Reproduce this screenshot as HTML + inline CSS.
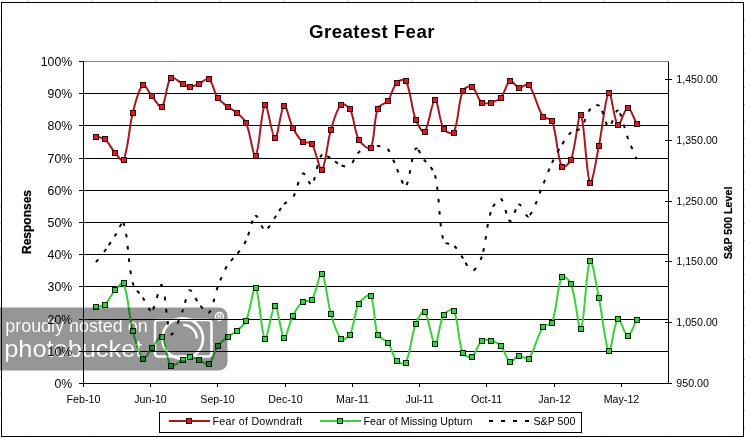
<!DOCTYPE html>
<html><head><meta charset="utf-8"><title>Greatest Fear</title>
<style>html,body{margin:0;padding:0;background:#fff;}body{width:745px;height:438px;overflow:hidden;}svg{display:block;will-change:transform;}</style>
</head><body>
<svg width="745" height="438" viewBox="0 0 745 438">
<rect width="745" height="438" fill="#fff"/>
<g fill="#c4c4c4" shape-rendering="crispEdges"><rect x="28" y="0" width="1" height="2"/><rect x="28" y="437" width="1" height="1"/><rect x="92" y="0" width="1" height="2"/><rect x="92" y="437" width="1" height="1"/><rect x="156" y="0" width="1" height="2"/><rect x="156" y="437" width="1" height="1"/><rect x="220" y="0" width="1" height="2"/><rect x="220" y="437" width="1" height="1"/><rect x="284" y="0" width="1" height="2"/><rect x="284" y="437" width="1" height="1"/><rect x="348" y="0" width="1" height="2"/><rect x="348" y="437" width="1" height="1"/><rect x="412" y="0" width="1" height="2"/><rect x="412" y="437" width="1" height="1"/><rect x="476" y="0" width="1" height="2"/><rect x="476" y="437" width="1" height="1"/><rect x="540" y="0" width="1" height="2"/><rect x="540" y="437" width="1" height="1"/><rect x="604" y="0" width="1" height="2"/><rect x="604" y="437" width="1" height="1"/><rect x="668" y="0" width="1" height="2"/><rect x="668" y="437" width="1" height="1"/><rect x="732" y="0" width="1" height="2"/><rect x="732" y="437" width="1" height="1"/><rect x="744" y="19" width="1" height="1"/><rect x="0" y="19" width="1" height="1"/><rect x="744" y="36" width="1" height="1"/><rect x="0" y="36" width="1" height="1"/><rect x="744" y="53" width="1" height="1"/><rect x="0" y="53" width="1" height="1"/><rect x="744" y="70" width="1" height="1"/><rect x="0" y="70" width="1" height="1"/><rect x="744" y="87" width="1" height="1"/><rect x="0" y="87" width="1" height="1"/><rect x="744" y="104" width="1" height="1"/><rect x="0" y="104" width="1" height="1"/><rect x="744" y="121" width="1" height="1"/><rect x="0" y="121" width="1" height="1"/><rect x="744" y="138" width="1" height="1"/><rect x="0" y="138" width="1" height="1"/><rect x="744" y="155" width="1" height="1"/><rect x="0" y="155" width="1" height="1"/><rect x="744" y="172" width="1" height="1"/><rect x="0" y="172" width="1" height="1"/><rect x="744" y="189" width="1" height="1"/><rect x="0" y="189" width="1" height="1"/><rect x="744" y="206" width="1" height="1"/><rect x="0" y="206" width="1" height="1"/><rect x="744" y="223" width="1" height="1"/><rect x="0" y="223" width="1" height="1"/><rect x="744" y="240" width="1" height="1"/><rect x="0" y="240" width="1" height="1"/><rect x="744" y="257" width="1" height="1"/><rect x="0" y="257" width="1" height="1"/><rect x="744" y="274" width="1" height="1"/><rect x="0" y="274" width="1" height="1"/><rect x="744" y="291" width="1" height="1"/><rect x="0" y="291" width="1" height="1"/><rect x="744" y="308" width="1" height="1"/><rect x="0" y="308" width="1" height="1"/><rect x="744" y="325" width="1" height="1"/><rect x="0" y="325" width="1" height="1"/><rect x="744" y="342" width="1" height="1"/><rect x="0" y="342" width="1" height="1"/><rect x="744" y="359" width="1" height="1"/><rect x="0" y="359" width="1" height="1"/><rect x="744" y="376" width="1" height="1"/><rect x="0" y="376" width="1" height="1"/><rect x="744" y="393" width="1" height="1"/><rect x="0" y="393" width="1" height="1"/><rect x="744" y="410" width="1" height="1"/><rect x="0" y="410" width="1" height="1"/><rect x="744" y="427" width="1" height="1"/><rect x="0" y="427" width="1" height="1"/></g>
<rect x="1.5" y="2.5" width="742" height="434" fill="none" stroke="#000" stroke-width="1" shape-rendering="crispEdges"/>
<text x="372" y="38.2" text-anchor="middle" font-family='"Liberation Sans", sans-serif' font-weight="bold" font-size="18.67px" letter-spacing="0.42" fill="#000">Greatest Fear</text>
<g fill="#000" shape-rendering="crispEdges"><rect x="84" y="93" width="584" height="1"/><rect x="84" y="125" width="584" height="1"/><rect x="84" y="158" width="584" height="1"/><rect x="84" y="190" width="584" height="1"/><rect x="84" y="222" width="584" height="1"/><rect x="84" y="254" width="584" height="1"/><rect x="84" y="286" width="584" height="1"/><rect x="84" y="319" width="584" height="1"/><rect x="84" y="351" width="584" height="1"/></g>
<rect x="83" y="61" width="586" height="1" fill="#868686" shape-rendering="crispEdges"/>
<g fill="#000" shape-rendering="crispEdges"><rect x="83" y="61" width="1" height="326"/><rect x="83" y="383" width="586" height="1"/><rect x="668" y="62" width="1" height="322"/><rect x="79" y="61" width="4" height="1"/><rect x="79" y="93" width="4" height="1"/><rect x="79" y="125" width="4" height="1"/><rect x="79" y="158" width="4" height="1"/><rect x="79" y="190" width="4" height="1"/><rect x="79" y="222" width="4" height="1"/><rect x="79" y="254" width="4" height="1"/><rect x="79" y="286" width="4" height="1"/><rect x="79" y="319" width="4" height="1"/><rect x="79" y="351" width="4" height="1"/><rect x="79" y="383" width="4" height="1"/><rect x="83" y="383" width="1" height="4"/><rect x="150" y="383" width="1" height="4"/><rect x="217" y="383" width="1" height="4"/><rect x="285" y="383" width="1" height="4"/><rect x="352" y="383" width="1" height="4"/><rect x="419" y="383" width="1" height="4"/><rect x="486" y="383" width="1" height="4"/><rect x="554" y="383" width="1" height="4"/><rect x="621" y="383" width="1" height="4"/><rect x="665" y="79" width="7" height="1"/><rect x="665" y="140" width="7" height="1"/><rect x="665" y="201" width="7" height="1"/><rect x="665" y="261" width="7" height="1"/><rect x="665" y="322" width="7" height="1"/><rect x="665" y="383" width="7" height="1"/></g>
<g font-family='"Liberation Sans", sans-serif' font-size="13px" fill="#000"><text x="40.75" y="65.7" textLength="31.45" lengthAdjust="spacingAndGlyphs">100%</text><text x="47.59" y="97.7" textLength="24.61" lengthAdjust="spacingAndGlyphs">90%</text><text x="47.59" y="129.7" textLength="24.61" lengthAdjust="spacingAndGlyphs">80%</text><text x="47.59" y="162.7" textLength="24.61" lengthAdjust="spacingAndGlyphs">70%</text><text x="47.59" y="194.7" textLength="24.61" lengthAdjust="spacingAndGlyphs">60%</text><text x="47.59" y="226.7" textLength="24.61" lengthAdjust="spacingAndGlyphs">50%</text><text x="47.59" y="258.7" textLength="24.61" lengthAdjust="spacingAndGlyphs">40%</text><text x="47.59" y="290.7" textLength="24.61" lengthAdjust="spacingAndGlyphs">30%</text><text x="47.59" y="323.7" textLength="24.61" lengthAdjust="spacingAndGlyphs">20%</text><text x="47.59" y="355.7" textLength="24.61" lengthAdjust="spacingAndGlyphs">10%</text><text x="54.43" y="387.7" textLength="17.77" lengthAdjust="spacingAndGlyphs">0%</text></g>
<g font-family='"Liberation Sans", sans-serif' font-size="10.67px" fill="#000"><text x="83.5" y="402.7" text-anchor="middle">Feb-10</text><text x="150.5" y="402.7" text-anchor="middle">Jun-10</text><text x="217.5" y="402.7" text-anchor="middle">Sep-10</text><text x="285.5" y="402.7" text-anchor="middle">Dec-10</text><text x="352.5" y="402.7" text-anchor="middle">Mar-11</text><text x="419.5" y="402.7" text-anchor="middle">Jul-11</text><text x="486.5" y="402.7" text-anchor="middle">Oct-11</text><text x="554.5" y="402.7" text-anchor="middle">Jan-12</text><text x="621.5" y="402.7" text-anchor="middle">May-12</text><text x="676.3" y="83.3">1,450.00</text><text x="676.3" y="144.3">1,350.00</text><text x="676.3" y="205.3">1,250.00</text><text x="676.3" y="265.3">1,150.00</text><text x="676.3" y="326.3">1,050.00</text><text x="676.3" y="387.3">950.00</text></g>
<text transform="translate(31.3 222) rotate(-90)" text-anchor="middle" font-family='"Liberation Sans", sans-serif' font-weight="bold" font-size="12px" fill="#000" stroke="#000" stroke-width="0.25">Responses</text>
<text transform="translate(732.4 223) rotate(-90)" text-anchor="middle" font-family='"Liberation Sans", sans-serif' font-weight="bold" font-size="10.67px" fill="#000" stroke="#000" stroke-width="0.2">S&amp;P 500 Level</text>
<path d="M96.00 136.60 C99.00 137.47 102.74 137.28 105.00 139.20 C109.01 142.61 111.16 148.48 114.80 152.60 C117.32 155.45 122.35 162.66 123.50 160.10 C128.35 149.36 128.78 128.24 132.80 112.70 C135.25 103.24 138.62 88.86 142.90 85.10 C144.95 83.30 148.71 92.47 151.80 96.00 C155.01 99.67 159.72 108.66 161.80 106.70 C166.08 102.66 166.04 83.27 170.90 78.00 C173.04 75.67 178.80 82.00 182.80 83.90 C185.04 84.96 187.28 86.90 189.60 86.90 C192.65 86.90 195.90 85.15 198.90 83.90 C202.30 82.48 206.63 77.29 208.80 78.90 C212.89 81.93 213.85 92.16 217.70 97.80 C220.18 101.43 224.28 103.94 227.80 106.70 C230.61 108.90 234.03 110.35 236.70 112.70 C240.10 115.69 244.20 118.63 246.00 122.70 C250.50 132.93 253.07 157.97 255.60 155.60 C259.40 152.04 261.12 108.46 265.00 104.90 C267.59 102.53 271.76 137.65 275.00 137.80 C278.13 137.95 280.63 107.77 284.10 105.80 C286.56 104.40 289.20 120.78 292.80 127.70 C295.44 132.78 298.67 138.31 302.80 141.80 C304.97 143.64 310.14 141.41 311.70 143.70 C316.47 150.68 319.21 171.48 321.80 169.60 C325.61 166.84 327.05 142.81 330.90 129.80 C333.45 121.18 336.35 109.84 341.00 104.70 C342.68 102.84 348.51 106.08 349.90 108.80 C354.44 117.71 354.04 130.62 358.80 139.60 C360.94 143.62 368.92 150.53 370.60 147.80 C375.22 140.26 373.35 120.61 377.70 108.80 C379.15 104.88 385.48 104.06 388.00 100.60 C391.78 95.40 392.58 87.29 396.60 82.80 C398.52 80.66 404.59 78.36 405.80 80.70 C410.96 90.66 411.14 107.30 415.70 119.70 C417.38 124.26 422.52 133.63 424.50 131.60 C428.96 127.03 431.64 100.37 435.00 99.90 C438.04 99.47 439.09 120.86 443.70 128.90 C445.32 131.72 452.43 135.03 453.70 132.50 C458.80 122.33 457.86 103.15 462.80 90.80 C463.96 87.89 469.78 85.32 472.00 86.70 C476.11 89.26 477.56 99.04 481.80 102.60 C483.86 104.34 488.05 103.35 490.90 102.60 C494.35 101.69 498.35 100.22 500.70 97.60 C504.75 93.09 506.24 83.31 510.10 81.20 C512.34 79.98 515.78 86.99 519.00 87.60 C521.95 88.16 526.82 82.55 528.60 84.70 C534.82 92.21 536.92 107.23 543.00 116.60 C544.72 119.26 550.90 117.89 552.00 120.80 C557.20 134.55 556.80 156.14 561.90 166.60 C563.14 169.14 569.75 163.22 571.00 159.80 C576.05 145.95 578.25 111.73 580.80 114.80 C584.59 119.37 586.12 176.08 590.00 182.70 C592.15 186.38 596.29 158.11 598.90 145.70 C602.59 128.14 604.98 97.13 608.90 92.80 C611.31 90.13 613.95 121.58 617.90 124.70 C620.25 126.55 624.56 107.89 627.80 107.70 C630.79 107.52 633.67 118.30 636.60 123.60" fill="none" stroke="#a61822" stroke-width="2" stroke-linejoin="round"/>
<path d="M96.00 306.90 C99.00 306.10 102.80 306.43 105.00 304.50 C109.06 300.93 111.06 294.66 114.80 290.40 C117.23 287.63 122.38 280.87 123.50 283.40 C128.38 294.40 128.78 315.39 132.80 331.00 C135.25 340.52 138.60 354.95 142.90 358.80 C144.93 360.62 148.78 351.56 151.80 348.00 C155.08 344.13 159.68 334.54 161.80 336.50 C166.04 340.41 166.02 360.21 170.90 365.60 C173.02 367.95 178.81 361.62 182.80 359.70 C185.04 358.62 187.28 356.60 189.60 356.60 C192.65 356.60 195.88 358.47 198.90 359.70 C202.28 361.07 206.61 365.99 208.80 364.40 C212.88 361.43 213.90 351.51 217.70 346.00 C220.23 342.34 224.26 339.71 227.80 336.90 C230.59 334.68 234.02 333.24 236.70 330.90 C240.09 327.94 244.22 325.05 246.00 321.00 C250.52 310.75 253.06 285.66 255.60 288.00 C259.39 291.49 261.12 334.96 265.00 338.50 C267.59 340.86 271.76 305.85 275.00 305.70 C278.13 305.55 280.63 335.63 284.10 337.60 C286.56 339.00 289.20 322.69 292.80 315.80 C295.44 310.75 298.68 305.29 302.80 301.80 C304.98 299.95 310.14 302.10 311.70 299.80 C316.47 292.80 319.21 272.00 321.80 273.90 C325.61 276.70 327.03 300.83 330.90 313.90 C333.43 322.46 336.36 333.72 341.00 338.80 C342.69 340.65 348.51 337.42 349.90 334.70 C354.45 325.76 354.03 312.80 358.80 303.80 C360.93 299.80 368.93 292.97 370.60 295.70 C375.23 303.27 373.33 322.92 377.70 334.70 C379.13 338.56 385.53 339.19 388.00 342.60 C391.83 347.89 392.55 356.27 396.60 360.80 C398.48 362.90 404.59 364.84 405.80 362.50 C410.96 352.48 411.16 336.05 415.70 323.70 C417.39 319.11 422.52 309.66 424.50 311.70 C428.96 316.30 431.62 343.05 435.00 343.60 C438.02 344.09 439.12 322.90 443.70 314.80 C445.36 311.87 452.42 307.95 453.70 310.50 C458.79 320.65 457.83 340.41 462.80 352.90 C463.93 355.75 469.80 357.91 472.00 356.50 C476.14 353.84 477.57 344.24 481.80 340.70 C483.87 338.97 488.05 339.95 490.90 340.70 C494.35 341.61 498.32 343.09 500.70 345.70 C504.72 350.12 506.25 359.74 510.10 361.80 C512.35 363.01 515.79 356.07 519.00 355.50 C521.96 354.97 526.81 360.64 528.60 358.50 C534.81 351.08 536.93 336.09 543.00 326.80 C544.73 324.16 550.90 325.60 552.00 322.70 C557.20 308.93 556.80 287.29 561.90 276.80 C563.13 274.26 569.76 280.18 571.00 283.60 C576.06 297.48 578.25 331.76 580.80 328.70 C584.58 324.16 586.12 267.42 590.00 260.80 C592.15 257.12 596.30 285.39 598.90 297.80 C602.60 315.42 604.98 346.55 608.90 350.90 C611.31 353.58 613.94 322.07 617.90 318.90 C620.24 317.03 624.57 335.63 627.80 335.80 C630.80 335.96 633.67 325.20 636.60 319.90" fill="none" stroke="#3ad03a" stroke-width="2" stroke-linejoin="round"/>
<g fill="none" stroke="#000" stroke-width="2"><path d="M96.00 262.20 C99.00 258.37 102.16 254.65 105.00 250.70" stroke-dasharray="0.00 0.03 3.60 9.48 1.49 24.60"/><path d="M105.00 250.70 C108.43 245.92 111.52 240.89 114.80 236.00" stroke-dasharray="0.00 0.00 2.11 4.68 3.60 6.81 0.47 27.67"/><path d="M114.80 236.00 C117.69 231.69 122.28 219.90 123.50 223.10" stroke-dasharray="0.00 0.00 3.13 6.98 3.60 2.44 0.56 26.71"/><path d="M123.50 223.10 C128.28 235.60 127.80 263.86 132.80 283.10" stroke-dasharray="0.00 0.00 3.04 8.19 3.60 8.55 3.60 8.69 3.60 8.53 3.60 8.53 0.89 70.82"/><path d="M132.80 283.10 C134.26 288.73 139.55 292.82 142.90 297.70" stroke-dasharray="0.00 0.00 2.71 5.91 3.60 5.36 0.30 27.89"/><path d="M142.90 297.70 C145.89 302.05 149.51 312.35 151.80 310.80" stroke-dasharray="0.00 0.00 3.30 8.33 3.60 26.47"/><path d="M151.80 310.80 C155.81 308.08 159.53 282.13 161.80 284.90" stroke-dasharray="0.00 1.91 3.60 8.53 3.60 8.79 2.17 38.59"/><path d="M161.80 284.90 C165.89 289.90 166.33 328.57 170.90 334.10" stroke-dasharray="0.00 0.00 1.43 10.97 3.60 8.53 3.60 8.45 3.60 9.47 0.68 60.33"/><path d="M170.90 334.10 C173.33 337.04 179.33 318.44 182.80 310.30" stroke-dasharray="0.00 0.00 2.92 10.39 3.60 8.16 2.56 37.63"/><path d="M182.80 310.30 C185.57 303.81 186.57 291.44 189.60 290.20" stroke-dasharray="0.00 0.00 1.04 6.90 3.60 8.98 0.96 31.48"/><path d="M189.60 290.20 C191.94 289.24 195.38 299.56 198.90 303.70" stroke-dasharray="0.00 0.00 2.64 7.48 3.60 26.82"/><path d="M198.90 303.70 C201.78 307.09 206.73 314.64 208.80 312.80" stroke-dasharray="0.00 2.81 3.60 7.13 0.59 24.13"/><path d="M208.80 312.80 C213.00 309.07 214.37 295.46 217.70 287.00" stroke-dasharray="0.00 0.00 3.01 8.79 3.60 8.62 3.48 37.50"/><path d="M217.70 287.00 C220.71 279.36 223.68 271.51 227.80 264.50" stroke-dasharray="0.00 0.00 0.12 6.90 3.60 8.42 3.60 34.69"/><path d="M227.80 264.50 C230.01 260.74 234.02 258.19 236.70 254.70" stroke-dasharray="0.00 4.68 3.60 23.27"/><path d="M236.70 254.70 C240.09 250.29 243.57 245.78 246.00 240.80" stroke-dasharray="0.00 1.47 3.60 8.13 3.55 26.75"/><path d="M246.00 240.80 C249.87 232.85 251.73 218.10 255.60 215.90" stroke-dasharray="0.00 5.87 3.60 8.15 3.60 5.01 0.71 36.94"/><path d="M255.60 215.90 C258.06 214.50 261.68 229.74 265.00 230.00" stroke-dasharray="0.00 0.00 2.89 8.51 3.60 27.62"/><path d="M265.00 230.00 C268.15 230.24 271.82 221.71 275.00 217.40" stroke-dasharray="0.00 3.30 3.60 7.90 1.68 26.48"/><path d="M275.00 217.40 C278.19 213.08 280.54 208.02 284.10 204.10" stroke-dasharray="0.00 0.00 1.92 5.67 3.60 4.84 0.11 26.13"/><path d="M284.10 204.10 C286.47 201.49 290.99 200.76 292.80 197.80" stroke-dasharray="0.00 0.00 3.49 20.85"/><path d="M292.80 197.80 C297.22 190.56 298.69 176.44 302.80 173.50" stroke-dasharray="0.00 1.51 3.60 8.15 3.60 8.67 0.96 36.49"/><path d="M302.80 173.50 C304.99 171.94 309.74 186.23 311.70 184.30" stroke-dasharray="0.00 0.00 2.64 7.09 3.60 24.90"/><path d="M311.70 184.30 C316.07 180.00 316.93 161.37 321.80 154.80" stroke-dasharray="0.00 4.49 3.60 8.27 3.60 8.36 3.09 41.42"/><path d="M321.80 154.80 C323.33 152.74 328.06 156.84 330.90 158.40" stroke-dasharray="0.00 0.00 0.51 5.26 3.60 20.39"/><path d="M330.90 158.40 C334.46 160.34 337.34 163.89 341.00 165.30" stroke-dasharray="0.00 5.11 3.60 22.27"/><path d="M341.00 165.30 C343.67 166.33 347.79 167.25 349.90 165.70" stroke-dasharray="0.00 0.59 3.60 19.22"/><path d="M349.90 165.70 C353.73 162.88 354.90 155.48 358.80 152.20" stroke-dasharray="0.00 3.77 3.60 7.14 1.80 26.31"/><path d="M358.80 152.20 C361.80 149.68 366.66 149.57 370.60 148.30" stroke-dasharray="0.00 0.00 1.80 8.40 2.33 22.53"/><path d="M370.60 148.30 C372.96 147.54 375.34 145.94 377.70 146.10" stroke-dasharray="0.00 0.00 1.27 5.34 0.89 17.50"/><path d="M377.70 146.10 C381.14 146.34 385.82 146.96 388.00 149.50" stroke-dasharray="0.00 0.00 2.71 7.60 0.80 21.11"/><path d="M388.00 149.50 C392.12 154.30 393.60 161.97 396.60 168.10" stroke-dasharray="0.00 0.00 2.80 8.54 3.60 30.58"/><path d="M396.60 168.10 C399.53 174.10 403.62 188.11 405.80 185.90" stroke-dasharray="0.00 1.22 3.60 8.16 3.60 30.85"/><path d="M405.80 185.90 C409.99 181.65 411.17 154.92 415.70 148.70" stroke-dasharray="0.00 1.24 3.60 7.96 3.60 8.21 3.60 8.86 1.67 48.75"/><path d="M415.70 148.70 C417.40 146.36 421.64 156.31 424.50 160.20" stroke-dasharray="0.00 0.00 1.93 1.46 3.60 7.18 1.16 25.33"/><path d="M424.50 160.20 C428.08 165.08 433.64 169.23 435.00 175.00" stroke-dasharray="0.00 0.00 2.44 6.83 3.60 28.32"/><path d="M435.00 175.00 C440.04 196.30 438.33 221.20 443.70 241.40" stroke-dasharray="0.00 0.18 3.60 8.15 3.60 8.57 3.60 8.62 3.60 8.27 3.60 8.70 3.60 77.05"/><path d="M443.70 241.40 C444.56 244.64 451.10 243.05 453.70 245.30" stroke-dasharray="0.00 2.62 3.60 21.18"/><path d="M453.70 245.30 C457.47 248.55 459.81 253.67 462.80 257.90" stroke-dasharray="0.00 0.96 3.60 8.22 2.82 25.60"/><path d="M462.80 257.90 C465.91 262.30 468.97 271.41 472.00 271.20" stroke-dasharray="0.00 0.00 0.78 4.75 3.60 26.57"/><path d="M472.00 271.20 C475.30 270.97 480.05 262.10 481.80 256.60" stroke-dasharray="0.00 1.80 3.60 9.06 3.60 28.11"/><path d="M481.80 256.60 C486.35 242.27 486.25 225.94 490.90 211.70" stroke-dasharray="0.00 5.14 3.60 8.64 3.60 8.59 3.60 8.75 3.60 55.87"/><path d="M490.90 211.70 C492.55 206.64 498.14 197.43 500.70 198.70" stroke-dasharray="0.00 5.34 3.60 7.87 0.25 27.06"/><path d="M500.70 198.70 C504.54 200.60 506.67 220.11 510.10 221.20" stroke-dasharray="0.00 0.00 3.35 9.00 3.60 6.77 2.08 34.80"/><path d="M510.10 221.20 C512.77 222.04 515.58 205.41 519.00 204.50" stroke-dasharray="0.00 0.00 1.52 8.28 3.60 5.25 0.85 29.50"/><path d="M519.00 204.50 C521.75 203.77 526.15 218.30 528.60 216.30" stroke-dasharray="0.00 0.00 2.75 9.48 3.60 26.07"/><path d="M528.60 216.30 C534.15 211.76 538.38 195.44 543.00 184.90" stroke-dasharray="0.00 1.90 3.60 8.40 3.60 8.15 3.60 44.77"/><path d="M543.00 184.90 C546.18 177.64 548.62 170.05 552.00 162.90" stroke-dasharray="0.00 1.72 3.60 8.56 3.60 33.77"/><path d="M552.00 162.90 C554.92 156.72 558.29 150.70 561.90 144.90" stroke-dasharray="0.00 0.00 3.60 8.41 3.60 30.55"/><path d="M561.90 144.90 C564.62 140.53 567.28 135.71 571.00 132.40" stroke-dasharray="0.00 0.82 3.60 7.84 3.27 25.52"/><path d="M571.00 132.40 C573.58 130.11 578.65 130.70 580.80 128.10" stroke-dasharray="0.00 0.00 0.33 5.31 3.60 20.85"/><path d="M580.80 128.10 C584.98 123.06 585.89 114.61 590.00 109.50" stroke-dasharray="0.00 6.53 3.60 8.28 2.44 30.85"/><path d="M590.00 109.50 C591.92 107.11 597.05 103.92 598.90 105.60" stroke-dasharray="0.00 0.00 1.16 6.35 2.89 20.40"/><path d="M598.90 105.60 C603.35 109.65 605.36 125.77 608.90 126.70" stroke-dasharray="0.00 0.00 0.71 5.49 3.60 7.44 3.60 33.70"/><path d="M608.90 126.70 C611.70 127.44 615.46 109.14 617.90 110.60" stroke-dasharray="0.00 4.18 3.60 8.52 2.91 29.22"/><path d="M617.90 110.60 C621.76 112.91 624.30 128.94 627.80 138.00" stroke-dasharray="0.00 0.00 0.69 2.72 3.60 8.40 3.60 7.91 2.47 39.39"/><path d="M627.80 138.00 C630.53 145.08 633.67 152.00 636.60 159.00" stroke-dasharray="0.00 0.00 1.13 7.22 3.60 8.56 2.26 32.77"/></g>
<g fill="#d21e2a" stroke="#3a0000" stroke-width="1"><rect x="93.5" y="134.5" width="5" height="5"/><rect x="102.5" y="136.5" width="5" height="5"/><rect x="112.5" y="150.5" width="5" height="5"/><rect x="121.5" y="157.5" width="5" height="5"/><rect x="130.5" y="110.5" width="5" height="5"/><rect x="140.5" y="82.5" width="5" height="5"/><rect x="149.5" y="93.5" width="5" height="5"/><rect x="159.5" y="104.5" width="5" height="5"/><rect x="168.5" y="75.5" width="5" height="5"/><rect x="180.5" y="81.5" width="5" height="5"/><rect x="187.5" y="84.5" width="5" height="5"/><rect x="196.5" y="81.5" width="5" height="5"/><rect x="206.5" y="76.5" width="5" height="5"/><rect x="215.5" y="95.5" width="5" height="5"/><rect x="225.5" y="104.5" width="5" height="5"/><rect x="234.5" y="110.5" width="5" height="5"/><rect x="243.5" y="120.5" width="5" height="5"/><rect x="253.5" y="153.5" width="5" height="5"/><rect x="262.5" y="102.5" width="5" height="5"/><rect x="272.5" y="135.5" width="5" height="5"/><rect x="281.5" y="103.5" width="5" height="5"/><rect x="290.5" y="125.5" width="5" height="5"/><rect x="300.5" y="139.5" width="5" height="5"/><rect x="309.5" y="141.5" width="5" height="5"/><rect x="319.5" y="167.5" width="5" height="5"/><rect x="328.5" y="127.5" width="5" height="5"/><rect x="338.5" y="102.5" width="5" height="5"/><rect x="347.5" y="106.5" width="5" height="5"/><rect x="356.5" y="137.5" width="5" height="5"/><rect x="368.5" y="145.5" width="5" height="5"/><rect x="375.5" y="106.5" width="5" height="5"/><rect x="385.5" y="98.5" width="5" height="5"/><rect x="394.5" y="80.5" width="5" height="5"/><rect x="403.5" y="78.5" width="5" height="5"/><rect x="413.5" y="117.5" width="5" height="5"/><rect x="422.5" y="129.5" width="5" height="5"/><rect x="432.5" y="97.5" width="5" height="5"/><rect x="441.5" y="126.5" width="5" height="5"/><rect x="451.5" y="130.5" width="5" height="5"/><rect x="460.5" y="88.5" width="5" height="5"/><rect x="469.5" y="84.5" width="5" height="5"/><rect x="479.5" y="100.5" width="5" height="5"/><rect x="488.5" y="100.5" width="5" height="5"/><rect x="498.5" y="95.5" width="5" height="5"/><rect x="507.5" y="78.5" width="5" height="5"/><rect x="516.5" y="85.5" width="5" height="5"/><rect x="526.5" y="82.5" width="5" height="5"/><rect x="540.5" y="114.5" width="5" height="5"/><rect x="549.5" y="118.5" width="5" height="5"/><rect x="559.5" y="164.5" width="5" height="5"/><rect x="568.5" y="157.5" width="5" height="5"/><rect x="578.5" y="112.5" width="5" height="5"/><rect x="587.5" y="180.5" width="5" height="5"/><rect x="596.5" y="143.5" width="5" height="5"/><rect x="606.5" y="90.5" width="5" height="5"/><rect x="615.5" y="122.5" width="5" height="5"/><rect x="625.5" y="105.5" width="5" height="5"/><rect x="634.5" y="121.5" width="5" height="5"/></g>
<g fill="#3ccc4c" stroke="#002400" stroke-width="1"><rect x="93.5" y="304.5" width="5" height="5"/><rect x="102.5" y="302.5" width="5" height="5"/><rect x="112.5" y="287.5" width="5" height="5"/><rect x="121.5" y="280.5" width="5" height="5"/><rect x="130.5" y="328.5" width="5" height="5"/><rect x="140.5" y="356.5" width="5" height="5"/><rect x="149.5" y="345.5" width="5" height="5"/><rect x="159.5" y="334.5" width="5" height="5"/><rect x="168.5" y="363.5" width="5" height="5"/><rect x="180.5" y="357.5" width="5" height="5"/><rect x="187.5" y="354.5" width="5" height="5"/><rect x="196.5" y="357.5" width="5" height="5"/><rect x="206.5" y="361.5" width="5" height="5"/><rect x="215.5" y="343.5" width="5" height="5"/><rect x="225.5" y="334.5" width="5" height="5"/><rect x="234.5" y="328.5" width="5" height="5"/><rect x="243.5" y="318.5" width="5" height="5"/><rect x="253.5" y="285.5" width="5" height="5"/><rect x="262.5" y="336.5" width="5" height="5"/><rect x="272.5" y="303.5" width="5" height="5"/><rect x="281.5" y="335.5" width="5" height="5"/><rect x="290.5" y="313.5" width="5" height="5"/><rect x="300.5" y="299.5" width="5" height="5"/><rect x="309.5" y="297.5" width="5" height="5"/><rect x="319.5" y="271.5" width="5" height="5"/><rect x="328.5" y="311.5" width="5" height="5"/><rect x="338.5" y="336.5" width="5" height="5"/><rect x="347.5" y="332.5" width="5" height="5"/><rect x="356.5" y="301.5" width="5" height="5"/><rect x="368.5" y="293.5" width="5" height="5"/><rect x="375.5" y="332.5" width="5" height="5"/><rect x="385.5" y="340.5" width="5" height="5"/><rect x="394.5" y="358.5" width="5" height="5"/><rect x="403.5" y="360.5" width="5" height="5"/><rect x="413.5" y="321.5" width="5" height="5"/><rect x="422.5" y="309.5" width="5" height="5"/><rect x="432.5" y="341.5" width="5" height="5"/><rect x="441.5" y="312.5" width="5" height="5"/><rect x="451.5" y="308.5" width="5" height="5"/><rect x="460.5" y="350.5" width="5" height="5"/><rect x="469.5" y="354.5" width="5" height="5"/><rect x="479.5" y="338.5" width="5" height="5"/><rect x="488.5" y="338.5" width="5" height="5"/><rect x="498.5" y="343.5" width="5" height="5"/><rect x="507.5" y="359.5" width="5" height="5"/><rect x="516.5" y="353.5" width="5" height="5"/><rect x="526.5" y="356.5" width="5" height="5"/><rect x="540.5" y="324.5" width="5" height="5"/><rect x="549.5" y="320.5" width="5" height="5"/><rect x="559.5" y="274.5" width="5" height="5"/><rect x="568.5" y="281.5" width="5" height="5"/><rect x="578.5" y="326.5" width="5" height="5"/><rect x="587.5" y="258.5" width="5" height="5"/><rect x="596.5" y="295.5" width="5" height="5"/><rect x="606.5" y="348.5" width="5" height="5"/><rect x="615.5" y="316.5" width="5" height="5"/><rect x="625.5" y="333.5" width="5" height="5"/><rect x="634.5" y="317.5" width="5" height="5"/></g>
<rect x="159.5" y="412.5" width="422" height="20" fill="#fff" stroke="#000" stroke-width="1" shape-rendering="crispEdges"/>
<rect x="169" y="420" width="41" height="2" fill="#a61822" shape-rendering="crispEdges"/>
<rect x="186.5" y="418.5" width="5" height="5" fill="#d21e2a" stroke="#3a0000" shape-rendering="crispEdges"/>
<rect x="320" y="420" width="41" height="2" fill="#3ad03a" shape-rendering="crispEdges"/>
<rect x="337.5" y="418.5" width="5" height="5" fill="#3ccc4c" stroke="#002400" shape-rendering="crispEdges"/>
<g fill="#000" shape-rendering="crispEdges"><rect x="489" y="420" width="4" height="2"/><rect x="501" y="420" width="4" height="2"/><rect x="513" y="420" width="4" height="2"/><rect x="525" y="420" width="4" height="2"/></g>
<g font-family='"Liberation Sans", sans-serif' font-size="10.67px" fill="#000"><text x="212.5" y="424.9" letter-spacing="0.27">Fear of Downdraft</text><text x="363.5" y="424.9" letter-spacing="0.06">Fear of Missing Upturn</text><text x="533.5" y="424.9">S&amp;P 500</text></g>
<defs><mask id="wm" maskUnits="userSpaceOnUse" x="0" y="0" width="745" height="438">
<rect x="0" y="0" width="745" height="438" fill="#fff"/>
<g fill="#000" font-family='"Liberation Sans", sans-serif'>
<text x="5.3" y="332" font-size="17.8px" textLength="142.3" lengthAdjust="spacingAndGlyphs">proudly hosted on</text>
<text transform="translate(4.2 357.3) scale(1.08 1)" font-size="23.5px">photobucket</text>
</g>
<g fill="none" stroke="#000" stroke-width="2.5">
<rect x="155" y="320" width="56.5" height="36.5" rx="3"/>
<circle cx="182.7" cy="338.6" r="20.3"/>
<path d="M183.3 325 A13.4 13.4 0 0 1 196.7 338.4"/>
<circle cx="219.4" cy="316.5" r="4.0" stroke-width="1.3"/>
</g>
<text x="219.4" y="319.1" font-size="6.6px" font-weight="bold" text-anchor="middle" font-family='"Liberation Sans", sans-serif' fill="#000">R</text>
</mask></defs>
<path d="M-5 307.5 H219 A8.5 8.5 0 0 1 227.5 316 V362 A8.5 8.5 0 0 1 219 370.5 H-5 Z" fill="#000" fill-opacity="0.41" mask="url(#wm)"/>
</svg>
</body></html>
